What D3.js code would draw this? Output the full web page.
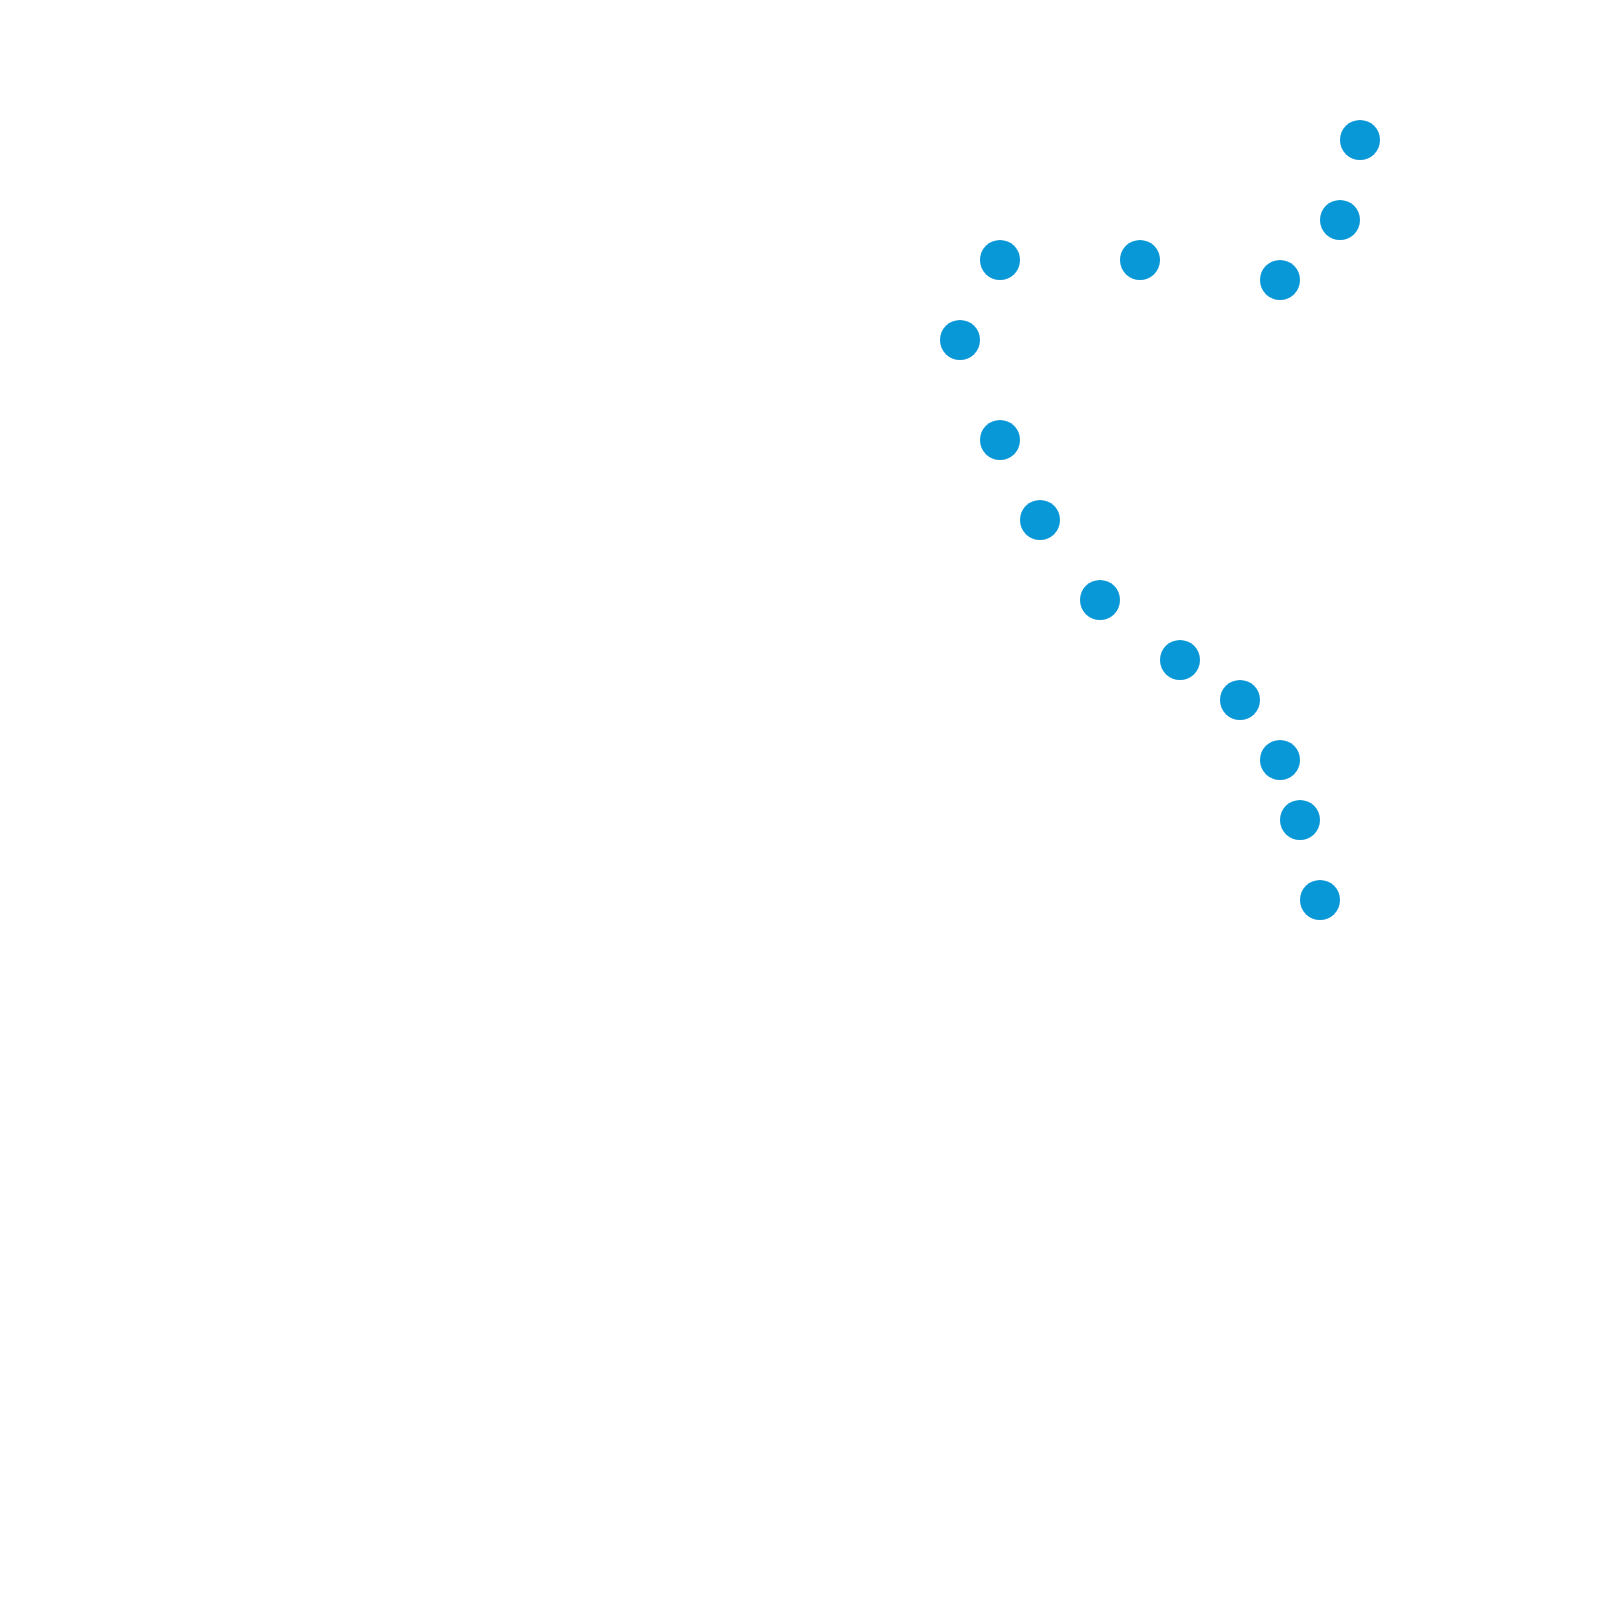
<!DOCTYPE html>
<html>
<head>
<meta charset="utf-8">
<script src="https://cdn.jsdelivr.net/npm/d3@7"></script>
<style>
  html, body { margin: 0; padding: 0; background: #fff; }
  svg { display: block; }
</style>
</head>
<body>
<svg class="scatter"></svg>
<script>
// point positions, in grid units (one unit = 1/80 of the chart side)
let xValues = [68, 67, 64, 57, 50, 48, 50, 52, 55, 59, 62, 64, 65, 66];
let yValues = [7, 11, 14, 13, 13, 17, 22, 26, 30, 33, 35, 38, 41, 45];

let width = 1600;
let height = 1600;

let data = xValues.map((x, i) => ({x: x, y: yValues[i]}));

let x = d3.scaleLinear()
  .domain([0, 80])
  .range([0, width]);

let y = d3.scaleLinear()
  .domain([0, 80])
  .range([0, height]);

let svg = d3.select(".scatter")
  .attr("width", width)
  .attr("height", height)
  .attr("viewBox", [0, 0, width, height]);

svg.append("g")
  .attr("fill", "#0998d7")
  .selectAll("circle")
  .data(data)
  .join("circle")
    .attr("cx", d => x(d.x))
    .attr("cy", d => y(d.y))
    .attr("r", 20);
</script>
</body>
</html>
